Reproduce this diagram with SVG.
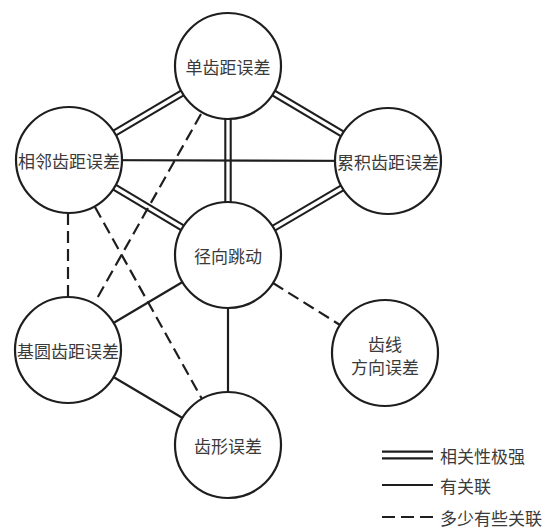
<svg xmlns="http://www.w3.org/2000/svg" width="553" height="528" viewBox="0 0 553 528">
<style>
.node circle{fill:#fff;stroke:#1e1e1e;stroke-width:2.2}
text{font-family:"Noto Sans CJK SC","Noto Sans",sans-serif;font-size:17px;fill:#3a3a3a;text-anchor:middle;dominant-baseline:central}
.dbl-o{stroke:#1e1e1e;stroke-width:7.5;fill:none}
.dbl-i{stroke:#fff;stroke-width:3.3;fill:none}
.sol{stroke:#1e1e1e;stroke-width:2.2;fill:none}
.dsh{stroke:#1e1e1e;stroke-width:2.2;fill:none;stroke-dasharray:12 6}
.leg{text-anchor:start}
</style>
<rect width="553" height="528" fill="#fff"/>
<g id="connectors">
  <g class="dbl-o">
    <line x1="228" y1="66" x2="69" y2="160"/>
    <line x1="228" y1="66" x2="388" y2="161"/>
    <line x1="228" y1="66" x2="228" y2="255"/>
    <line x1="69" y1="160" x2="228" y2="255"/>
    <line x1="388" y1="161" x2="228" y2="255"/>
  </g>
  <g class="dbl-i">
    <line x1="228" y1="66" x2="69" y2="160"/>
    <line x1="228" y1="66" x2="388" y2="161"/>
    <line x1="228" y1="66" x2="228" y2="255"/>
    <line x1="69" y1="160" x2="228" y2="255"/>
    <line x1="388" y1="161" x2="228" y2="255"/>
  </g>
  <line class="sol" x1="69" y1="160" x2="388" y2="161"/>
  <line class="sol" x1="228" y1="255" x2="68" y2="350"/>
  <line class="sol" x1="228" y1="255" x2="228" y2="445"/>
  <line class="sol" x1="68" y1="350" x2="228" y2="445"/>
  <line class="dsh" x1="201" y1="114" x2="95" y2="302"/>
  <line class="dsh" x1="68" y1="213" x2="68" y2="297"/>
  <line class="dsh" x1="95" y1="207" x2="202" y2="399"/>
  <line class="dsh" x1="273" y1="283" x2="340" y2="325"/>
</g>
<g id="n-danchijuwucha" class="node"><circle cx="228" cy="66" r="53"/><text x="228" y="66">单齿距误差</text></g>
<g id="n-xianglinchijuwucha" class="node"><circle cx="69" cy="160" r="53"/><text x="69" y="160">相邻齿距误差</text></g>
<g id="n-leijichijuwucha" class="node"><circle cx="388" cy="161" r="53"/><text x="388" y="161">累积齿距误差</text></g>
<g id="n-jingxiangtiaodong" class="node"><circle cx="228" cy="255" r="53"/><text x="228" y="255">径向跳动</text></g>
<g id="n-jiyuanchijuwucha" class="node"><circle cx="68" cy="350" r="53"/><text x="68" y="350">基圆齿距误差</text></g>
<g id="n-chixianfangxiangwucha" class="node"><circle cx="385" cy="353" r="53"/><text x="385" y="343">齿线</text><text x="385" y="366">方向误差</text></g>
<g id="n-chixingwucha" class="node"><circle cx="228" cy="445" r="53"/><text x="228" y="445">齿形误差</text></g>
<g id="legend">
  <line class="dbl-o" x1="382" y1="455" x2="433" y2="455" style="stroke-width:9"/>
  <line class="dbl-i" x1="382" y1="455" x2="433" y2="455" style="stroke-width:4.5"/>
  <text class="leg" x="440" y="455">相关性极强</text>
  <line class="sol" x1="382" y1="485" x2="433" y2="485"/>
  <text class="leg" x="440" y="485">有关联</text>
  <line class="dsh" x1="382" y1="517" x2="433" y2="517" style="stroke-dasharray:13 6"/>
  <text class="leg" x="440" y="517">多少有些关联</text>
</g>
</svg>
